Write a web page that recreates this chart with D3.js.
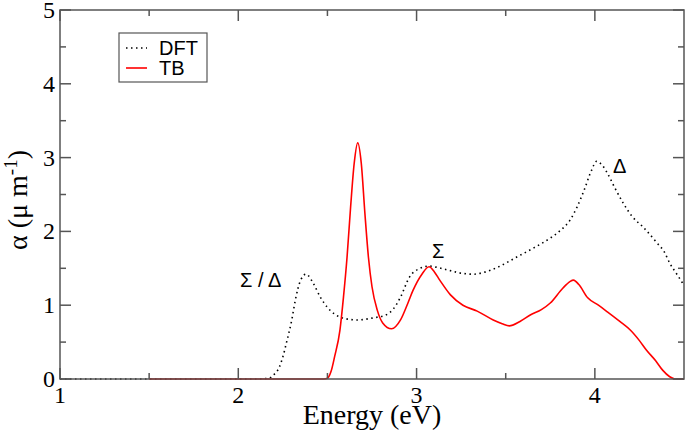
<!DOCTYPE html>
<meta charset="utf-8">
<style>
  body { margin: 0; background: #fff; }
  .tick-label { font-family: "Liberation Serif", "Times New Roman", serif; font-size: 24px; fill: #000; }
  .axis-title { font-family: "Liberation Serif", "Times New Roman", serif; font-size: 28px; fill: #000; }
  .note { font-family: "Liberation Sans", Arial, sans-serif; font-size: 20px; fill: #000; }
</style>
<svg width="685" height="434"></svg>
<script src="https://cdn.jsdelivr.net/npm/d3@7"></script>
<script>

// DFT curve (energy eV, alpha)
var dftE = [1.0, 2.1, 2.17, 2.2, 2.23, 2.25, 2.27, 2.3, 2.32, 2.35, 2.38, 2.42, 2.46, 2.5, 2.54, 2.58,
            2.67, 2.76, 2.83, 2.87, 2.91, 2.96, 3.02, 3.07, 3.12, 3.17, 3.26, 3.32, 3.37, 3.46, 3.56,
            3.66, 3.75, 3.81, 3.86, 3.9, 3.94, 3.98, 4.01, 4.04, 4.07, 4.11, 4.16, 4.21, 4.27, 4.35,
            4.39, 4.42, 4.46, 4.5];
var dftA = [0, 0, 0.01, 0.06, 0.16, 0.3, 0.49, 0.8, 1.07, 1.34, 1.42, 1.3, 1.11, 0.97, 0.88, 0.83,
            0.8, 0.83, 0.87, 0.95, 1.11, 1.38, 1.5, 1.53, 1.51, 1.48, 1.43, 1.42, 1.44, 1.52, 1.65,
            1.78, 1.91, 2.02, 2.15, 2.33, 2.56, 2.82, 2.95, 2.9, 2.79, 2.6, 2.38, 2.2, 2.06, 1.84,
            1.72, 1.57, 1.42, 1.27];

// TB curve
var tbE = [1.5, 2.48, 2.5, 2.52, 2.54, 2.57, 2.59, 2.61, 2.63, 2.65, 2.67, 2.69, 2.71, 2.73, 2.75,
           2.78, 2.81, 2.86, 2.91, 2.95, 2.98, 3.03, 3.07, 3.1, 3.13, 3.19, 3.26, 3.34, 3.43, 3.48,
           3.52, 3.58, 3.64, 3.7, 3.75, 3.82, 3.86, 3.88, 3.91, 3.96, 4.02, 4.07, 4.14, 4.2, 4.25,
           4.29, 4.34, 4.38, 4.42, 4.45, 4.5];
var tbA = [0, 0, 0.01, 0.1, 0.3, 0.66, 1.11, 1.65, 2.33, 2.92, 3.2, 2.92, 2.25, 1.65, 1.25,
           0.93, 0.76, 0.68, 0.8, 1.02, 1.2, 1.42, 1.52, 1.45, 1.34, 1.14, 1.0, 0.92, 0.8, 0.75,
           0.72, 0.78, 0.87, 0.94, 1.03, 1.23, 1.32, 1.34, 1.28, 1.1, 1.0, 0.91, 0.78, 0.66, 0.52,
           0.39, 0.25, 0.12, 0.03, 0, 0];

var xMajor = [1, 2, 3, 4];
var xMinor = [1.5, 2.5, 3.5];
var yMajor = [0, 1, 2, 3, 4, 5];
var yMinor = [0.5, 1.5, 2.5, 3.5, 4.5];

var svg = d3.select("svg"),
    plotL = 60, plotR = 684, plotT = 10, plotB = 379;

var x = d3.scaleLinear().domain([1, 4.5]).range([plotL, plotR]);
var y = d3.scaleLinear().domain([0, 5]).range([plotB, plotT]);

var frameColor = "#555";

/*
 * Curves.
 */
var line = d3.line()
    .x(function(d) { return x(d[0]); })
    .y(function(d) { return y(d[1]); })
    .curve(d3.curveMonotoneX);

svg.append("path")
    .datum(d3.zip(dftE, dftA))
    .attr("fill", "none")
    .attr("stroke", "#000")
    .attr("stroke-width", 1.6)
    .attr("stroke-dasharray", "1.5,3.5")
    .attr("d", line);

svg.append("path")
    .datum(d3.zip(tbE, tbA))
    .attr("fill", "none")
    .attr("stroke", "#ff0000")
    .attr("stroke-width", 1.6)
    .attr("d", line);

/*
 * Frame with inward ticks on all four sides.
 */
svg.append("rect")
    .attr("x", plotL).attr("y", plotT)
    .attr("width", plotR - plotL).attr("height", plotB - plotT)
    .attr("fill", "none")
    .attr("stroke", frameColor)
    .attr("stroke-width", 1.5);

var ticks = svg.append("g").attr("stroke", frameColor).attr("stroke-width", 1.5);

function xTicks(vals, len) {
  vals.forEach(function(v) {
    ticks.append("line").attr("x1", x(v)).attr("x2", x(v)).attr("y1", plotB).attr("y2", plotB - len);
    ticks.append("line").attr("x1", x(v)).attr("x2", x(v)).attr("y1", plotT).attr("y2", plotT + len);
  });
}
function yTicks(vals, len) {
  vals.forEach(function(v) {
    ticks.append("line").attr("y1", y(v)).attr("y2", y(v)).attr("x1", plotL).attr("x2", plotL + len);
    ticks.append("line").attr("y1", y(v)).attr("y2", y(v)).attr("x1", plotR).attr("x2", plotR - len);
  });
}
xTicks(xMajor, 11);
xTicks(xMinor, 6);
yTicks(yMajor, 11);
yTicks(yMinor, 6);

/*
 * Tick labels.
 */
svg.selectAll(".xl")
  .data(xMajor)
  .enter().append("text")
    .attr("class", "tick-label")
    .attr("x", function(d) { return x(d); })
    .attr("y", plotB + 24)
    .attr("text-anchor", "middle")
    .text(function(d) { return d; });

svg.selectAll(".yl")
  .data(yMajor)
  .enter().append("text")
    .attr("class", "tick-label")
    .attr("x", plotL - 5)
    .attr("y", function(d) { return y(d) + 8; })
    .attr("text-anchor", "end")
    .text(function(d) { return d; });

/*
 * Axis titles.
 */
svg.append("text")
    .attr("class", "axis-title")
    .attr("x", 372)
    .attr("y", 424)
    .attr("text-anchor", "middle")
    .text("Energy (eV)");

var yt = svg.append("text")
    .attr("class", "axis-title")
    .attr("text-anchor", "middle")
    .attr("transform", "translate(27,200)rotate(-90)");
yt.append("tspan").text("α (μ m");
yt.append("tspan").attr("font-size", "19px").attr("dy", "-10").text("-1");
yt.append("tspan").attr("dy", "10").text(")");

/*
 * Legend.
 */
var legend = svg.append("g");
legend.append("rect")
    .attr("x", 119).attr("y", 33).attr("width", 88).attr("height", 49)
    .attr("fill", "#fff").attr("stroke", frameColor).attr("stroke-width", 1.2);
legend.append("line")
    .attr("x1", 126).attr("x2", 147).attr("y1", 48).attr("y2", 48)
    .attr("stroke", "#000").attr("stroke-width", 1.6).attr("stroke-dasharray", "1.5,3.5");
legend.append("line")
    .attr("x1", 126).attr("x2", 147).attr("y1", 68).attr("y2", 68)
    .attr("stroke", "#ff0000").attr("stroke-width", 1.6);
legend.append("text").attr("class", "note").attr("x", 159).attr("y", 55).text("DFT");
legend.append("text").attr("class", "note").attr("x", 159).attr("y", 75).text("TB");

/*
 * Peak annotations.
 */
svg.append("text").attr("class", "note").attr("x", 240).attr("y", 287).text("Σ / Δ");
svg.append("text").attr("class", "note").attr("x", 432).attr("y", 258).text("Σ");
svg.append("text").attr("class", "note").attr("x", 613).attr("y", 173).text("Δ");
</script>
